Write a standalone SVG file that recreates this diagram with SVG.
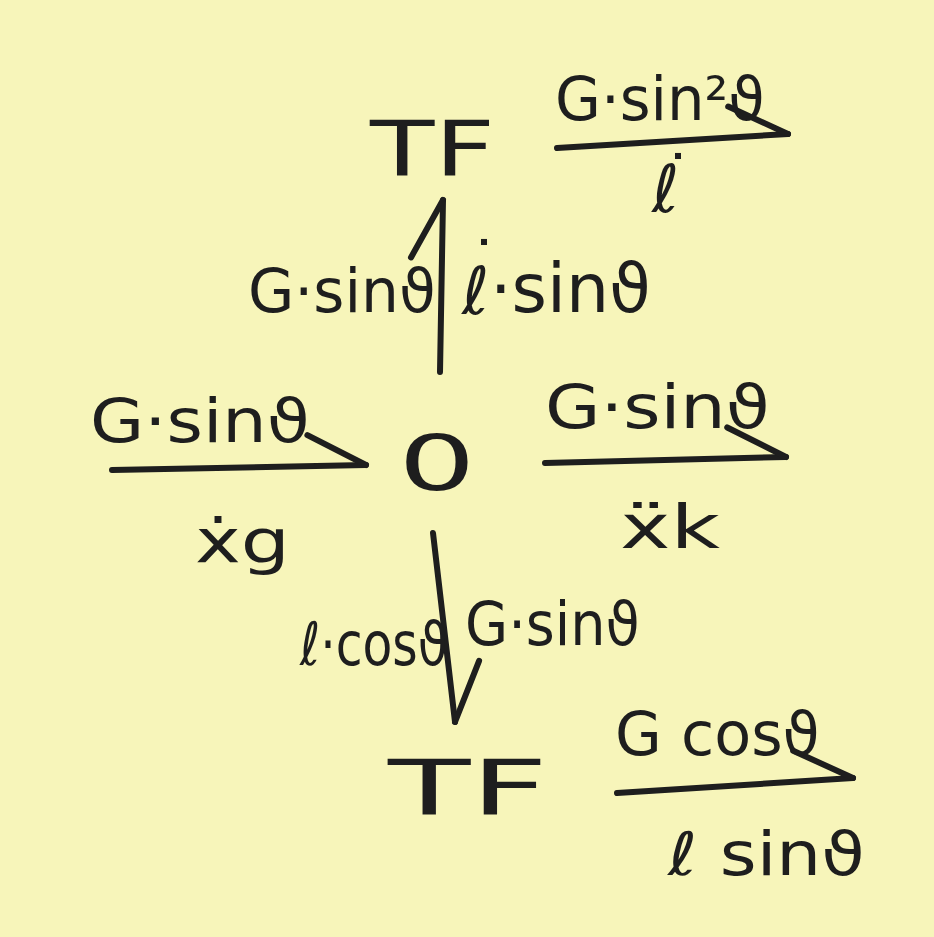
<svg xmlns="http://www.w3.org/2000/svg" width="934" height="937" viewBox="0 0 934 937">
<style>
.bond{fill:none;stroke:#1e1e1e;stroke-width:6;stroke-linecap:round;stroke-linejoin:round;marker-end:url(#harpoon)}
.t{font-family:"DejaVu Sans","Liberation Sans",sans-serif;fill:#1e1e1e;font-size:60px}
.node{font-family:"DejaVu Sans","Liberation Sans",sans-serif;fill:#1e1e1e;font-size:76px}
</style>
<defs>
<marker id="harpoon" markerUnits="userSpaceOnUse" markerWidth="1" markerHeight="1" refX="0" refY="0" orient="auto" overflow="visible">
<path d="M0,0 L-58,-31" fill="none" stroke="#1e1e1e" stroke-width="6" stroke-linecap="round"/>
</marker>
</defs>
<rect width="934" height="937" fill="#f7f5ba"/>
<g id="connectors">
<path class="bond" d="M557,148 L788,134"/>
<path class="bond" d="M440,372 L443,200"/>
<path class="bond" d="M112,470 L366,465"/>
<path class="bond" d="M545,463 L786,457"/>
<path class="bond" d="M433,533 L455,722"/>
<path class="bond" d="M617,793 L853,778"/>
</g>
<g id="tf-top"><text class="node" x="370" y="176" textLength="125" lengthAdjust="spacingAndGlyphs">TF</text></g>
<g id="junction-0"><text class="node" x="437" y="490" text-anchor="middle" transform="translate(437 0) scale(1.6 1) translate(-437 0)">0</text></g>
<g id="tf-bottom"><text class="node" x="388" y="815" textLength="160" lengthAdjust="spacingAndGlyphs">TF</text></g>
<g id="labels">
<text class="t" x="555" y="120" textLength="210" lengthAdjust="spacingAndGlyphs">G·sin²ϑ</text>
<text class="t" style="font-size:66px"><tspan x="652" y="212">ℓ</tspan><tspan x="663" y="199" style="font-size:60px">˙</tspan></text>
<text class="t" x="248" y="312" textLength="188" lengthAdjust="spacingAndGlyphs">G·sinϑ</text>
<text class="t" style="font-size:66px"><tspan x="462" y="314">ℓ</tspan><tspan x="469" y="285" style="font-size:60px">˙</tspan><tspan x="490" y="312" style="font-size:68px">·sinϑ</tspan></text>
<text class="t" x="90" y="442" textLength="220" lengthAdjust="spacingAndGlyphs">G·sinϑ</text>
<text class="t" x="195" y="562" textLength="95" lengthAdjust="spacingAndGlyphs">ẋg</text>
<text class="t" x="545" y="428" textLength="225" lengthAdjust="spacingAndGlyphs">G·sinϑ</text>
<text class="t" x="620" y="548" textLength="100" lengthAdjust="spacingAndGlyphs">ẍk</text>
<text class="t" x="300" y="665" textLength="148" lengthAdjust="spacingAndGlyphs">ℓ·cosϑ</text>
<text class="t" x="465" y="645" textLength="175" lengthAdjust="spacingAndGlyphs">G·sinϑ</text>
<text class="t" x="615" y="755" textLength="205" lengthAdjust="spacingAndGlyphs">G cosϑ</text>
<text class="t" x="668" y="875" textLength="197" lengthAdjust="spacingAndGlyphs">ℓ sinϑ</text>
</g>
</svg>
